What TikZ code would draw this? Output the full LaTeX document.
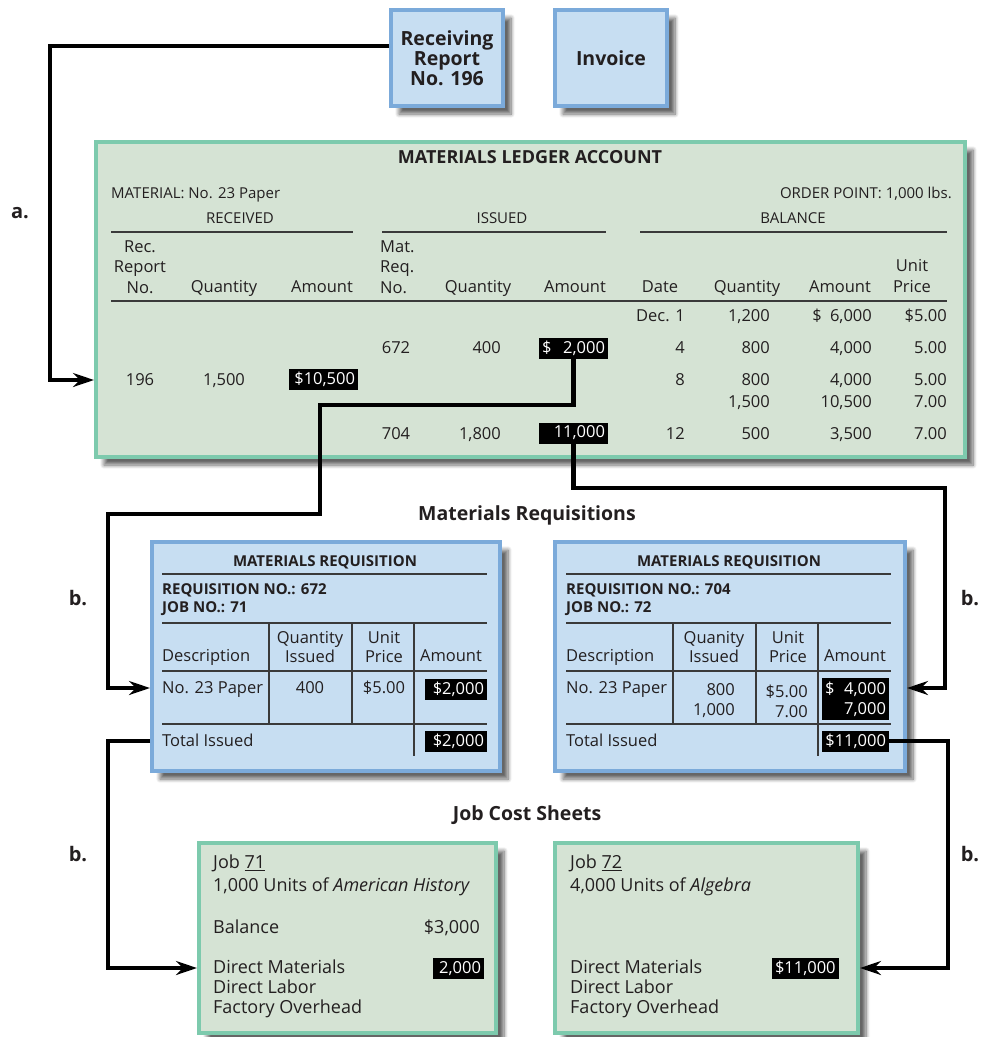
\documentclass[tikz,border=0pt]{standalone}
\usepackage{fontspec}
\setmainfont{Open Sans}
\usetikzlibrary{arrows.meta,shadows.blur,positioning}
\definecolor{bluerim}{HTML}{7BAADA}
\definecolor{bluepad}{HTML}{C7DEF2}
\definecolor{greenrim}{HTML}{7DCAAD}
\definecolor{greenpad}{HTML}{D5E3D4}
\definecolor{rulegray}{HTML}{3A3A3A}
\definecolor{ink}{HTML}{231F20}
\newcommand\fsbig{\fontsize{19.5}{20}\selectfont}
\newcommand\fsjob{\fontsize{18}{20}\selectfont}
\newcommand\fsmid{\fontsize{16.5}{20.5}\selectfont}
\newcommand\fssmall{\fontsize{15}{18}\selectfont}
\newcommand\pushright{\hskip0pt plus1filll}

\begin{document}
\begin{tikzpicture}[x=1pt,y=-1pt,
    every node/.style={inner sep=0pt,font=\fsmid,anchor=mid,text=ink,yshift=-3pt},
    card/.style={yshift=3pt,line width=4pt,anchor=north west,inner sep=0pt,
      blur shadow={shadow xshift=8pt,shadow yshift=-8pt,shadow opacity=60,shadow blur steps=8,shadow blur radius=4pt}},
    bluecard/.style={card,draw=bluerim,fill=bluepad},
    greencard/.style={card,draw=greenrim,fill=greenpad},
    hl/.style={yshift=3pt,anchor=center,fill=black,text=white,inner xsep=3pt,text width=#1,align=right,minimum height=21pt},
    conn/.style={line width=4.5pt,-{Stealth[length=21pt,width=14pt,inset=7pt]}},
    ruled/.style={draw=rulegray,line width=1.1pt},
    tag/.style={font=\bfseries\fontsize{20}{22}\selectfont}]
\useasboundingbox (0,0) rectangle (988,1037);

\node[bluecard,minimum width=112pt,minimum height=96pt,align=center,font=\bfseries\fsbig] (recv) at (389,8) {Receiving\\Report\\No. 196};
\node[bluecard,minimum width=112pt,minimum height=96pt,font=\bfseries\fsbig] (inv) at (553,8) {Invoice};
\node[greencard,minimum width=869pt,minimum height=315pt] (ledger) at (94,140) {};
\node[bluecard,minimum width=348pt,minimum height=229pt] (reqL) at (150,540) {};
\node[bluecard,minimum width=350pt,minimum height=229pt] (reqR) at (553,540) {};
\node[greencard,minimum width=297pt,minimum height=190pt] (jobL) at (197,841) {};
\node[greencard,minimum width=303pt,minimum height=190pt] (jobR) at (553,841) {};

\node[font=\bfseries\fontsize{18}{20}\selectfont] (lgtitle) at (530,158) {MATERIALS LEDGER ACCOUNT};
\node[font=\fssmall,anchor=mid west] (lgmat) at (111,193) {MATERIAL: No. 23 Paper};
\node[font=\fssmall,anchor=mid east] (lgord) at (952,193) {ORDER POINT: 1,000 lbs.};
\node[font=\fssmall] (lgrec) at (240,218) {RECEIVED};
\node[font=\fssmall] (lgiss) at (502,218) {ISSUED};
\node[font=\fssmall] (lgbal) at (793,218) {BALANCE};
\draw[ruled] (111,232) -- (353,232) (382,232) -- (606,232) (640,232) -- (947,232) (111,301) -- (947,301);
\node[anchor=center,align=center] (lgrr) at (140,264) {Rec.\\Report\\No.};
\node[anchor=west,align=left] (lgmr) at (380,264) {Mat.\\Req.\\No.};
\node[anchor=center,align=center] (lgup) at (912,273) {Unit\\Price};
\foreach \x/\t [count=\i] in {224/Quantity,322/Amount,478/Quantity,575/Amount,660/Date,747/Quantity,840/Amount}
  \node (lgh\i) at (\x,287) {\t};
\foreach \y/\d/\q/\a/\p [count=\i] in {316/Dec. 1/{1,200}/{\$\enspace6,000}/\$5.00,348/4/800/{4,000}/5.00,
    380/8/800/{4,000}/5.00,402/{}/{1,500}/{10,500}/7.00,434/12/500/{3,500}/7.00}
{
  \node[anchor=mid east] (bd\i) at (685,\y) {\d};
  \node[anchor=mid east] (bq\i) at (770,\y) {\q};
  \node[anchor=mid east] (ba\i) at (872,\y) {\a};
  \node[anchor=mid east] (bp\i) at (947,\y) {\p};
}
\node (mr1) at (396,348) {672};
\node[anchor=mid east] (iq1) at (501,348) {400};
\node[hl=63pt] (iss1) at (573.5,348.5) {\$\pushright 2,000};
\node (rn1) at (140,380) {196};
\node (rq1) at (224,380) {1,500};
\node[hl=63pt] (rec1) at (323.5,379.5) {\$10,500};
\node (mr2) at (396,434) {704};
\node[anchor=mid east] (iq2) at (501,434) {1,800};
\node[hl=63pt] (iss2) at (573.5,433) {11,000};

\node[font=\bfseries\fsbig] (mrq) at (527,515) {Materials Requisitions};
\node[font=\bfseries\fsbig] (jcs) at (527,815) {Job Cost Sheets};

\node[font=\bfseries\fssmall] (rlt) at (325,561) {MATERIALS REQUISITION};
\draw[ruled] (162,574) -- (487,574) (162,623) -- (487,623) (162,671) -- (487,671) (162,724) -- (487,724)
  (269,623) -- (269,724) (352,623) -- (352,724) (414,623) -- (414,756);
\node[font=\bfseries\fssmall,anchor=mid west] (rln) at (162,589) {REQUISITION NO.: 672};
\node[font=\bfseries\fssmall,anchor=mid west] (rlj) at (162,607) {JOB NO.: 71};
\node[anchor=mid west] (rld) at (162,656) {Description};
\node[anchor=center,align=center] (rlq) at (310,644) {Quantity\\[-1.5pt]Issued};
\node[anchor=center,align=center] (rlu) at (384,644) {Unit\\[-1.5pt]Price};
\node (rla) at (451,656) {Amount};
\node[anchor=mid west] (rlp) at (162,688) {No. 23 Paper};
\node (rlqv) at (310,688) {400};
\node (rluv) at (384,688) {\$5.00};
\node[hl=56pt] (rlav) at (456,689) {\$2,000};
\node[anchor=mid west] (rlti) at (162,741) {Total Issued};
\node[hl=56pt] (tot1) at (456,741) {\$2,000};

\node[font=\bfseries\fssmall] (rrt) at (729,561) {MATERIALS REQUISITION};
\draw[ruled] (566,574) -- (891,574) (566,623) -- (891,623) (566,671) -- (891,671) (566,724) -- (891,724)
  (673,623) -- (673,724) (756,623) -- (756,724) (818,623) -- (818,756);
\node[font=\bfseries\fssmall,anchor=mid west] (rrn) at (566,589) {REQUISITION NO.: 704};
\node[font=\bfseries\fssmall,anchor=mid west] (rrj) at (566,607) {JOB NO.: 72};
\node[anchor=mid west] (rrd) at (566,656) {Description};
\node[anchor=center,align=center] (rrq) at (714,644) {Quanity\\[-1.5pt]Issued};
\node[anchor=center,align=center] (rru) at (788,644) {Unit\\[-1.5pt]Price};
\node (rra) at (855,656) {Amount};
\node[anchor=mid west] (rrp) at (566,688) {No. 23 Paper};
\node[anchor=east,align=right] (rrqv) at (735,698) {800\\[-0.5pt]1,000};
\node[anchor=east,align=right] (rruv) at (808,698) {\$5.00\\[-0.5pt]7.00};
\node[hl=61pt,minimum height=42pt] (rrav) at (855.5,699) {\$\pushright 4,000\\[-0.5pt]7,000};
\node[anchor=mid west] (rrti) at (566,741) {Total Issued};
\node[hl=61pt] (tot2) at (855.5,741) {\$11,000};

\foreach \y/\t [count=\i] in {863/Job \underline{71},886/{1,000 Units of \textit{American History}},928/Balance,
    968/Direct Materials,988/Direct Labor,1008/Factory Overhead}
  \node[anchor=mid west,font=\fsjob] (jl\i) at (213,\y) {\t};
\node[anchor=mid east,font=\fsjob] (jlb) at (480,928) {\$3,000};
\node[hl=45pt] (jlm) at (458.5,968.5) {2,000};
\foreach \y/\t [count=\i] in {863/Job \underline{72},886/{4,000 Units of \textit{Algebra}},
    968/Direct Materials,988/Direct Labor,1008/Factory Overhead}
  \node[anchor=mid west,font=\fsjob] (jr\i) at (570,\y) {\t};
\node[hl=61pt,align=left] (jrm) at (805.5,968.5) {\$11,000};

\node[tag] (ta) at (20,213) {a.};
\node[tag] (tb1) at (78,600) {b.};
\node[tag] (tb2) at (970,600) {b.};
\node[tag] (tb3) at (78,856) {b.};
\node[tag] (tb4) at (970,856) {b.};

\draw[conn] (recv.west |- 0,46) -| (50,380) -- (ledger.west |- 0,380);
\draw[conn] (iss1.south) |- (320,405) |- (108,514) |- (reqL.west |- 0,688);
\draw[conn] (iss2.south) |- (945,488) |- (reqR.east |- 0,688);
\draw[conn] (reqL.west |- 0,741) -| (108,968) -- (jobL.west |- 0,968);
\draw[conn] (tot2.east) -| (948,968) -- (jobR.east |- 0,968);
\end{tikzpicture}
\end{document}
